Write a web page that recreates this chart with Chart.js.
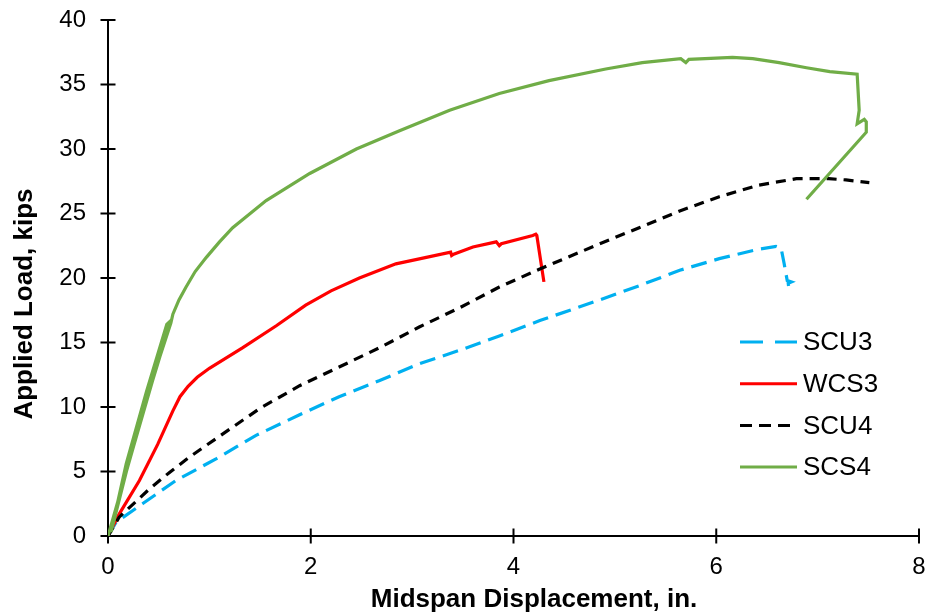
<!DOCTYPE html>
<html>
<head>
<meta charset="utf-8">
<script src="https://cdn.jsdelivr.net/npm/chart.js@4/dist/chart.umd.min.js"></script>
<style>
  html, body { margin: 0; padding: 0; background: #fff; }
  #c { display: block; }
</style>
</head>
<body>
<canvas id="c" width="925" height="616"></canvas>
<script>
"use strict";
// load-displacement curves
const SCU3_X = [0, 0.08, 0.34, 0.67, 1.07, 1.46, 1.89, 2.28, 2.68, 3.07, 3.47, 3.86, 4.26, 4.85, 5.24, 5.64, 6.03, 6.40, 6.59, 6.64, 6.67, 6.70, 6.74, 6.71, 6.72];
const SCU3_Y = [0, 1.07, 2.5, 4.3, 6.0, 7.8, 9.4, 10.8, 12.05, 13.35, 14.4, 15.5, 16.7, 18.3, 19.4, 20.6, 21.5, 22.2, 22.45, 22.3, 21.1, 19.8, 19.7, 19.6, 18.9];

const WCS3_X = [0, 0.11, 0.31, 0.49, 0.64, 0.71, 0.79, 0.88, 1.0, 1.33, 1.66, 1.95, 2.20, 2.48, 2.84, 3.14, 3.38, 3.39, 3.41, 3.60, 3.83, 3.86, 3.88, 4.19, 4.22, 4.23, 4.30];
const WCS3_Y = [0, 1.7, 4.3, 7.1, 9.7, 10.8, 11.6, 12.3, 13.0, 14.6, 16.3, 17.9, 19.0, 20.0, 21.1, 21.6, 22.0, 21.75, 21.85, 22.4, 22.8, 22.5, 22.65, 23.3, 23.4, 23.3, 19.7];

const SCU4_X = [0, 0.11, 0.41, 0.61, 0.80, 1.13, 1.50, 1.89, 2.28, 2.68, 3.07, 3.47, 3.86, 4.26, 4.85, 5.24, 5.64, 6.03, 6.42, 6.79, 7.11, 7.28, 7.51];
const SCU4_Y = [0, 1.46, 3.66, 4.95, 6.1, 7.9, 9.9, 11.65, 13.1, 14.6, 16.2, 17.7, 19.3, 20.7, 22.65, 23.9, 25.2, 26.3, 27.2, 27.7, 27.7, 27.6, 27.4];

const SCS4_X = [0, 0.25, 0.44, 0.62, 0.58, 0.38, 0.18, 0.03, 0.22, 0.42, 0.62, 0.64, 0.70, 0.77, 0.86, 0.97, 1.10, 1.23, 1.56, 1.99, 2.45, 2.87, 3.37, 3.86, 4.35, 4.91, 5.27, 5.65, 5.70, 5.73, 6.16, 6.36, 6.62, 6.89, 7.12, 7.39, 7.41, 7.39, 7.46, 7.48, 7.48, 6.89];
const SCS4_Y = [0, 6.9, 12.05, 16.7, 16.4, 11.2, 5.6, 0.3, 6.2, 11.7, 16.5, 17.2, 18.3, 19.3, 20.5, 21.6, 22.8, 23.9, 26.0, 28.1, 30.0, 31.4, 33.0, 34.3, 35.3, 36.2, 36.7, 37.0, 36.7, 36.95, 37.1, 37.0, 36.7, 36.3, 36.0, 35.8, 33.0, 31.95, 32.3, 32.1, 31.3, 26.1];

const X_TICKS = [0, 2, 4, 6, 8];
const Y_TICKS = [0, 5, 10, 15, 20, 25, 30, 35, 40];

const X_TITLE = "Midspan Displacement, in.";
const Y_TITLE = "Applied Load, kips";

const pts = (xs, ys) => xs.map((x, i) => ({ x, y: ys[i] }));
const FONT = "'Liberation Sans', Arial, sans-serif";

// axes with crossing tick marks, Excel style, plus titles and the legend box
const frame = {
  id: "frame",
  beforeDatasetsDraw(chart) {
    const { ctx, chartArea: a, scales: { x, y } } = chart;
    ctx.save();
    ctx.strokeStyle = "#000"; ctx.lineWidth = 2;
    ctx.beginPath();
    ctx.moveTo(a.left, a.top - 1); ctx.lineTo(a.left, a.bottom); ctx.lineTo(a.right + 1, a.bottom);
    X_TICKS.forEach((v) => { const p = x.getPixelForValue(v); ctx.moveTo(p, a.bottom - 7.5); ctx.lineTo(p, a.bottom + 7.5); });
    Y_TICKS.forEach((v) => { const p = y.getPixelForValue(v); ctx.moveTo(a.left - 7.5, p); ctx.lineTo(a.left + 7.5, p); });
    ctx.stroke();
    ctx.restore();
  },
  afterDraw(chart) {
    const { ctx } = chart;
    ctx.save();
    ctx.fillStyle = "#000";
    ctx.font = "bold 26px " + FONT;
    ctx.textAlign = "center"; ctx.textBaseline = "middle";
    ctx.fillText(X_TITLE, 534, 600);
    ctx.translate(25, 304); ctx.rotate(-Math.PI / 2);
    ctx.fillText(Y_TITLE, 0, 0);
    ctx.restore();

    // legend
    ctx.save();
    ctx.font = "26px " + FONT;
    ctx.textAlign = "left"; ctx.textBaseline = "middle";
    chart.data.datasets.forEach((ds, i) => {
      const yy = 342 + i * 41.7;
      ctx.strokeStyle = ds.borderColor; ctx.lineWidth = 3;
      ctx.setLineDash(ds.legendDash || []);
      ctx.beginPath(); ctx.moveTo(740, yy); ctx.lineTo(797, yy); ctx.stroke();
      ctx.setLineDash([]);
      ctx.fillStyle = "#000";
      ctx.fillText(ds.label, 803, yy + 1);
    });
    ctx.restore();
  }
};

const line = (label, xs, ys, color, dash, legendDash, order) => ({
  label, data: pts(xs, ys), borderColor: color, backgroundColor: color,
  borderWidth: 3.2, borderDash: dash, legendDash, pointRadius: 0, showLine: true,
  tension: 0, fill: false, order,
});

new Chart(document.getElementById("c"), {
  type: "scatter",
  data: {
    datasets: [
      line("SCU3", SCU3_X, SCU3_Y, "#00B0F0", [16, 8], [23, 12], 3),
      line("WCS3", WCS3_X, WCS3_Y, "#FF0000", [], [], 2),
      line("SCU4", SCU4_X, SCU4_Y, "#000000", [10, 7], [12, 7], 1),
      line("SCS4", SCS4_X, SCS4_Y, "#70AD47", [], [], 0),
    ],
  },
  options: {
    responsive: false, animation: false, devicePixelRatio: 1,
    layout: { padding: { top: 20, right: 6, left: 0, bottom: 0 } },
    plugins: { legend: { display: false }, tooltip: { enabled: false } },
    scales: {
      x: {
        type: "linear", min: 0, max: 8,
        afterFit: (s) => { s.height = 80; s.paddingLeft = 0; s.paddingRight = 0; },
        grid: { display: false }, border: { display: false },
        ticks: { stepSize: 2, color: "#000", padding: 9, font: { family: FONT, size: 24 } },
      },
      y: {
        type: "linear", min: 0, max: 40,
        afterFit: (s) => { s.width = 108; s.paddingTop = 0; s.paddingBottom = 0; },
        grid: { display: false }, border: { display: false },
        ticks: { stepSize: 5, color: "#000", padding: 14, font: { family: FONT, size: 24 } },
      },
    },
  },
  plugins: [frame],
});
</script>
</body>
</html>
